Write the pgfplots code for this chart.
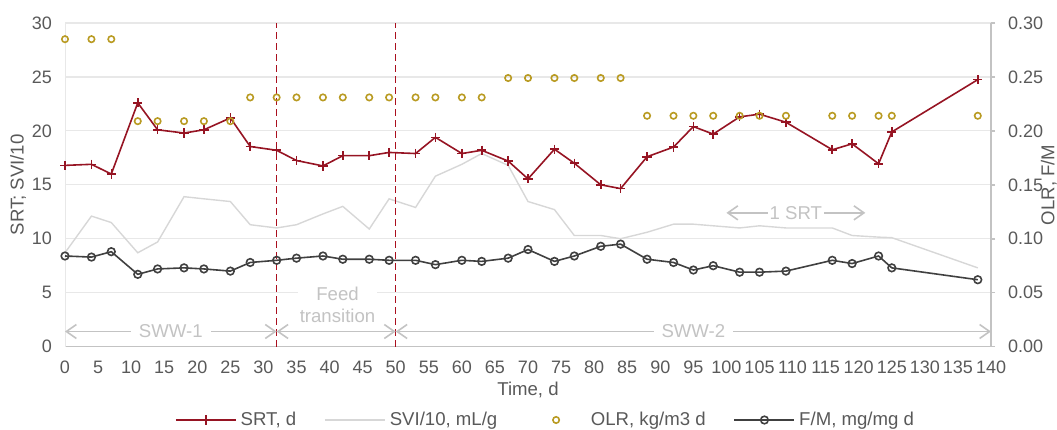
\documentclass[border=0pt]{standalone}
\usepackage{fontspec}
\setmainfont{Liberation Sans}
\usepackage{pgfplots}
\usepackage{pgfplotstable}
\pgfplotsset{compat=1.18}
\usetikzlibrary{arrows.meta,calc}
\definecolor{srt}{RGB}{150,20,35}
\definecolor{olr}{RGB}{185,155,35}
\definecolor{fm}{RGB}{64,64,64}
\definecolor{svi}{RGB}{215,215,215}
\definecolor{txt}{RGB}{89,89,89}
\definecolor{ann}{RGB}{195,195,195}
\definecolor{gridc}{RGB}{232,232,232}
\definecolor{phase}{RGB}{170,15,30}

% time, SRT (d), SVI/10, F/M, OLR
\pgfplotstableread{
t srt svi fm olr
0 16.8 8.7 0.084 0.285
4 16.9 12.1 0.083 0.285
7 16.0 11.5 0.088 0.285
11 22.6 8.7 0.067 0.209
14 20.1 9.7 0.072 0.209
18 19.8 13.9 0.073 0.209
21 20.1 13.7 0.072 0.209
25 21.2 13.45 0.070 0.209
28 18.55 11.3 0.078 0.231
32 18.2 11.0 0.080 0.231
35 17.25 11.3 0.082 0.231
39 16.75 12.3 0.084 0.231
42 17.7 13.0 0.081 0.231
46 17.7 10.9 0.081 0.231
49 18.0 13.7 0.080 0.231
53 17.9 12.9 0.080 0.231
56 19.4 15.8 0.076 0.231
60 17.9 16.9 0.080 0.231
63 18.2 17.9 0.079 0.231
67 17.2 16.8 0.082 0.249
70 15.55 13.45 0.090 0.249
74 18.3 12.7 0.079 0.249
77 17.0 10.3 0.084 0.249
81 15.0 10.3 0.093 0.249
84 14.65 10.0 0.095 0.249
88 17.6 10.6 0.081 0.214
92 18.5 11.35 0.078 0.214
95 20.4 11.35 0.071 0.214
98 19.7 11.2 0.075 0.214
102 21.3 11.0 0.069 0.214
105 21.55 11.2 0.069 0.214
109 20.8 11.0 0.070 0.214
116 18.25 11.0 0.080 0.214
119 18.8 10.3 0.077 0.214
123 16.95 10.15 0.084 0.214
125 19.9 10.1 0.073 0.214
138 24.75 7.3 0.062 0.214
}\data

\pgfplotsset{
  base/.style={
    scale only axis, width=463pt, height=161.8pt,
    xmin=0, xmax=140,
    tick label style={font=\fontsize{9}{11}\selectfont, text=txt},
    /pgf/number format/assume math mode=true,
  },
}
\tikzset{barb/.style={ann, line width=0.8pt,
  {Straight Barb[length=5pt,width=7pt]}-{Straight Barb[length=5pt,width=7pt]}}}

\begin{document}
\begin{tikzpicture}
\begin{axis}[base,
  ymin=0, ymax=30,
  xtick={0,5,...,140}, ytick={0,5,...,30},
  axis x line*=bottom, axis y line*=left,
  x axis line style={draw=ann, line width=0.8pt},
  y axis line style={draw=gridc},
  major tick length=0pt,
  ymajorgrids, grid style={gridc, line width=0.6pt},
  xticklabel style={yshift=-3.5pt},
  yticklabel style={xshift=-3pt},
  xlabel={Time, d}, ylabel={SRT; SVI/10},
  label style={font=\fontsize{9.3}{11}\selectfont, text=txt},
  xlabel style={at={(axis description cs:0.5,0)}, anchor=center, yshift=-21.7pt},
  ylabel style={at={(axis description cs:-0.0508,0.5)}, anchor=center},
  legend columns=4,
  legend style={draw=none, fill=none, at={(0.52,-0.2268)}, anchor=center,
    font=\fontsize{9.3}{11}\selectfont, text=txt,
    nodes={inner xsep=2pt},
    /tikz/every even column/.append style={column sep=12pt}},
  legend image code/.code={\draw[mark repeat=2,mark phase=2]
    plot coordinates {(0pt,0pt) (15pt,0pt) (30pt,0pt)};},
]
\addplot[svi, line width=0.7pt, forget plot] table[x=t,y=svi] {\data};
\addplot[phase, line width=0.7pt, dash pattern=on 3.5pt off 2pt, forget plot]
  coordinates {(32,0) (32,30)};
\addplot[phase, line width=0.7pt, dash pattern=on 3.5pt off 2pt, forget plot]
  coordinates {(50,0) (50,30)};
\draw[barb] (axis cs:0,1.4) -- node[fill=white, text=ann, inner xsep=4pt,
  font=\fontsize{9.3}{11}\selectfont] {SWW-1} (axis cs:32,1.4);
\draw[barb] (axis cs:32,1.4) -- (axis cs:50,1.4);
\draw[barb] (axis cs:50,1.4) -- node[fill=white, text=ann, inner xsep=4pt,
  font=\fontsize{9.3}{11}\selectfont] {SWW-2} (axis cs:140,1.4);
\node[fill=white, text=ann, align=center, font=\fontsize{9.3}{11}\selectfont,
  inner sep=1pt] at (axis cs:41.2,3.9) {Feed\\transition};
\draw[barb] (axis cs:100,12.4) -- node[fill=white, text=ann, inner sep=1pt,
  font=\fontsize{9.3}{11}\selectfont] {1 SRT} (axis cs:121,12.4);
\addplot[srt, line width=0.8pt, mark=+, mark size=2.3pt] table[x=t,y=srt] {\data};
\addlegendentry{SRT, d}
\addlegendimage{svi, line width=0.8pt}
\addlegendentry{SVI/10, mL/g}
\addlegendimage{olr, line width=0.8pt, dash pattern=on 0pt off 40pt,
  mark=o, mark size=1.6pt, mark options={solid}}
\addlegendentry{OLR, kg/m3 d}
\addlegendimage{fm, line width=0.8pt, mark=o, mark size=1.9pt,
  mark options={fill=white}}
\addlegendentry{F/M, mg/mg d}
\coordinate (sw) at (rel axis cs:0,0);
\coordinate (ne) at (rel axis cs:1,1);
\end{axis}
\begin{axis}[base,
  ymin=0, ymax=0.3,
  ytick={0,0.05,...,0.3},
  axis x line=none, axis y line*=right,
  y axis line style={draw=ann, line width=0.8pt},
  tick align=outside, major tick length=2pt,
  ytick style={draw=ann, line width=0.8pt},
  yticklabel style={/pgf/number format/fixed, /pgf/number format/fixed zerofill,
    /pgf/number format/precision=2, xshift=3pt},
  ylabel={OLR, F/M},
  ylabel style={font=\fontsize{9.3}{11}\selectfont, text=txt,
    at={(axis description cs:1.0625,0.5)}, anchor=center},
]
\addplot[fm, line width=0.8pt, mark=o, mark size=1.9pt,
  mark options={fill=white}] table[x=t,y=fm] {\data};
\addplot[only marks, olr, mark=o, mark size=1.6pt, line width=0.8pt]
  table[x=t,y=olr] {\data};
\end{axis}
\pgfresetboundingbox
\path ($(sw)+(-32.5pt,-41.2pt)$) rectangle ($(ne)+(33pt,11.5pt)$);
\end{tikzpicture}
\end{document}
